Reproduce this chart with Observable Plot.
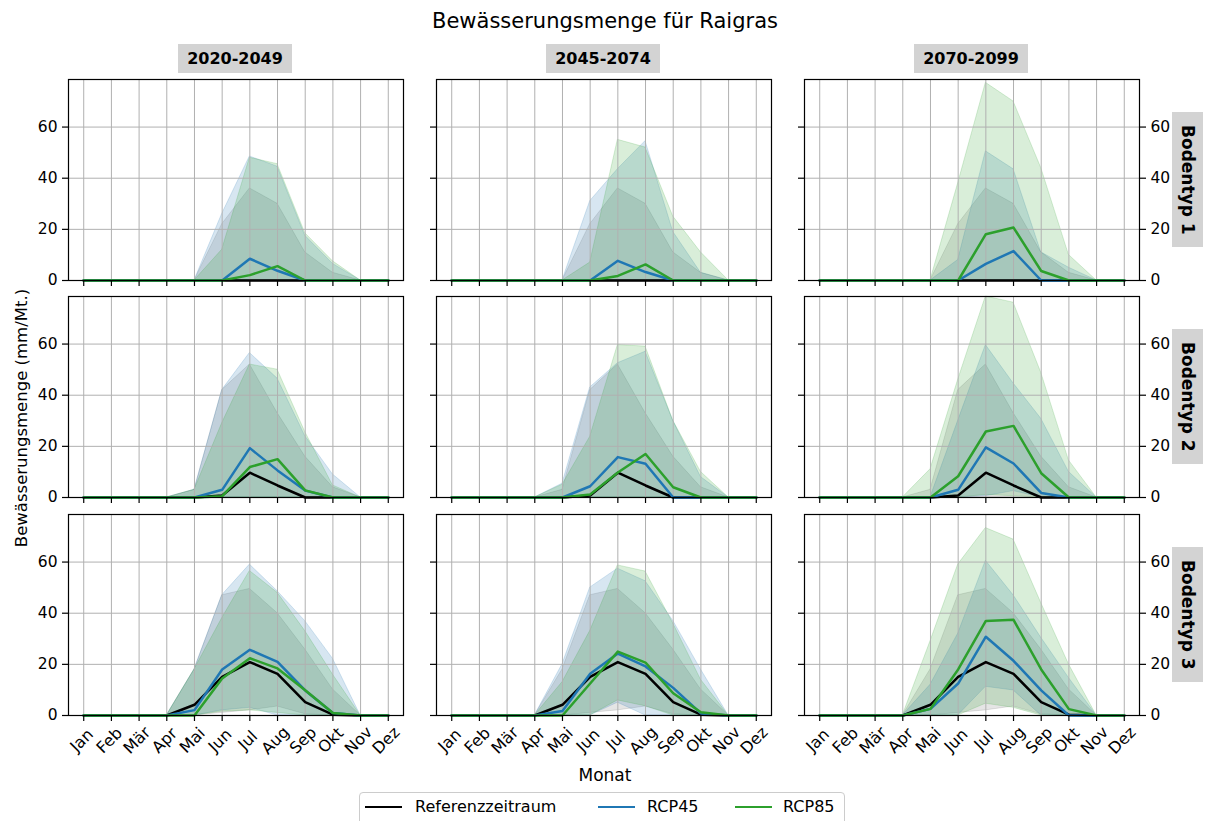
<!DOCTYPE html>
<html><head><meta charset="utf-8">
<script src="https://cdn.jsdelivr.net/npm/d3@7"></script>
<script src="https://cdn.jsdelivr.net/npm/@observablehq/plot@0.6"></script>
<style>
body{margin:0;background:#fff;font-family:"DejaVu Sans",sans-serif;color:#000;}
#root{position:relative;width:1210px;height:821px;overflow:hidden;background:#fff;}
.abs{position:absolute;}
.hdr{position:absolute;background:#d3d3d3;font-weight:bold;font-size:16px;display:flex;align-items:center;justify-content:center;}
.rowlab{position:absolute;background:#d3d3d3;font-weight:bold;font-size:17px;display:flex;align-items:center;justify-content:center;writing-mode:vertical-rl;}
</style></head><body><div id="root"></div>
<script>
const months = ["Jan","Feb","Mär","Apr","Mai","Jun","Jul","Aug","Sep","Okt","Nov","Dez"];
const periods = ["2020-2049","2045-2074","2070-2099"];
const soils = ["Bodentyp 1","Bodentyp 2","Bodentyp 3"];
const yTicks = [0,20,40,60];
const legendNames = ["Referenzzeitraum","RCP45","RCP85"];
const colors = ["black","#1f77b4","#2ca02c"];

// Bodentyp 1
const b1RefMean = [0,0,0,0,0,0,0,0,0,0,0,0];
const b1RefLo   = [0,0,0,0,0,0,0,0,0,0,0,0];
const b1RefHi   = [0,0,0,0,0,22,36,30,11,3,0,0];
const b1Rcp45Mean = [[0,0,0,0,0,0,8.5,3.8,0,0,0,0],[0,0,0,0,0,0,7.7,3.3,0,0,0,0],[0,0,0,0,0,0,6.5,11.5,0,0,0,0]];
const b1Rcp45Lo   = [[0,0,0,0,0,0,0,0,0,0,0,0],[0,0,0,0,0,0,0,0,0,0,0,0],[0,0,0,0,0,0,0,0,0,0,0,0]];
const b1Rcp45Hi   = [[0,0,0,0,0,26,48.5,44.5,17.5,6.5,0,0],[0,0,0,0,0,31,43.5,54.5,19,3,0,0],[0,0,0,0,0,8,50.5,43.5,11,5,0,0]];
const b1Rcp85Mean = [[0,0,0,0,0,0,2.1,5.6,0,0,0,0],[0,0,0,0,0,0,1.8,6.3,0,0,0,0],[0,0,0,0,0,0,18.1,20.7,3.7,0,0,0]];
const b1Rcp85Lo   = [[0,0,0,0,0,0,0,0,0,0,0,0],[0,0,0,0,0,0,0,0,0,0,0,0],[0,0,0,0,0,0,0,0,0,0,0,0]];
const b1Rcp85Hi   = [[0,0,0,0,0,12,48,45.5,18.5,7.5,0,0],[0,0,0,0,0,7,55,52,25,11,0,0],[0,0,0,0,0,38,77.3,70,44,10,0,0]];

// Bodentyp 2
const b2RefMean = [0,0,0,0,0,0.8,9.7,4.7,0,0,0,0];
const b2RefLo   = [0,0,0,0,0,0,0,0,0,0,0,0];
const b2RefHi   = [0,0,0,0,3,42,52,33,16,4,0,0];
const b2Rcp45Mean = [[0,0,0,0,0,3,19.3,10.6,2.7,0,0,0],[0,0,0,0,0,4.4,15.8,13.2,0,0,0,0],[0,0,0,0,0,3,19.6,13.3,1.8,0,0,0]];
const b2Rcp45Lo   = [[0,0,0,0,0,0,0,0,0,0,0,0],[0,0,0,0,0,0,0,0,0,0,0,0],[0,0,0,0,0,0,0.5,2.5,0,0,0,0]];
const b2Rcp45Hi   = [[0,0,0,0,3,42,56.5,46.5,24,9,0,0],[0,0,0,0,5.4,43,52.5,57,30,8,0,0],[0,0,0,0,0,30,59.6,44.6,30.8,10,0,0]];
const b2Rcp85Mean = [[0,0,0,0,0,0.5,11.9,15,2.8,0,0,0],[0,0,0,0,0,1.2,9.8,17,4,0,0,0],[0,0,0,0,0,8.3,25.8,28,9.5,0,0,0]];
const b2Rcp85Lo   = [[0,0,0,0,0,0,0,0,0,0,0,0],[0,0,0,0,0,0,0,0,0,0,0,0],[0,0,0,0,0,0,1,0.5,0,0,0,0]];
const b2Rcp85Hi   = [[0,0,0,0,3,29,52,50,25.6,4.7,0,0],[0,0,0,0,5,23.7,59.6,59,30,10,0,0],[0,0,0,0,11,46,78.6,76.2,48.8,14.5,0,0]];

// Bodentyp 3
const b3RefMean = [0,0,0,0,4.2,15.1,20.9,16.3,5.2,0.3,0,0];
const b3RefLo   = [0,0,0,0,0,1,2,3.5,0.5,0,0,0];
const b3RefHi   = [0,0,0,0,18,47,49.5,40,25.8,10.2,0,0];
const b3Rcp45Mean = [[0,0,0,0,2.1,18,25.7,21,9.8,1,0,0],[0,0,0,0,1.8,16.3,24.2,19.2,10.8,0.8,0,0],[0,0,0,0,2.6,12.5,30.8,21.4,9.8,0,0,0]];
const b3Rcp45Lo   = [[0,0,0,0,0,2,3,0,0,0,0,0],[0,0,0,0,0,0,5,0,0,0,0,0],[0,0,0,0,0,0,11.2,9.8,0,0,0,0]];
const b3Rcp45Hi   = [[0,0,0,0,18,47,59,48.6,36.9,22.2,0,0],[0,0,0,0,20,50,57.4,52.5,37,18,0,0],[0,0,0,0,12,32,60.5,47,30.4,14.7,0,0]];
const b3Rcp85Mean = [[0,0,0,0,0,14.5,22.4,18.4,9.9,1,0,0],[0,0,0,0,0,12.5,25,20.7,8.7,1.3,0,0],[0,0,0,0,2.6,18,37,37.4,18,2.5,0,0]];
const b3Rcp85Lo   = [[0,0,0,0,0,1.5,2,1,0,0,0,0],[0,0,0,0,0,0,5.9,3.6,0,0,0,0],[0,0,0,0,0,0,4.6,3,0,0,0,0]];
const b3Rcp85Hi   = [[0,0,0,0,18,38,56.5,48,33,16,0,0],[0,0,0,0,13,33,58.7,56.3,36,14,0,0],[0,0,0,0,29,59,73.3,68.8,44,20,0,0]];

const soilSets = [
  {refMean:b1RefMean, refLo:b1RefLo, refHi:b1RefHi, r45Mean:b1Rcp45Mean, r45Lo:b1Rcp45Lo, r45Hi:b1Rcp45Hi, r85Mean:b1Rcp85Mean, r85Lo:b1Rcp85Lo, r85Hi:b1Rcp85Hi},
  {refMean:b2RefMean, refLo:b2RefLo, refHi:b2RefHi, r45Mean:b2Rcp45Mean, r45Lo:b2Rcp45Lo, r45Hi:b2Rcp45Hi, r85Mean:b2Rcp85Mean, r85Lo:b2Rcp85Lo, r85Hi:b2Rcp85Hi},
  {refMean:b3RefMean, refLo:b3RefLo, refHi:b3RefHi, r45Mean:b3Rcp45Mean, r45Lo:b3Rcp45Lo, r45Hi:b3Rcp45Hi, r85Mean:b3Rcp85Mean, r85Lo:b3Rcp85Lo, r85Hi:b3Rcp85Hi}
];

const root = document.getElementById("root");
const frameLeft = [67.5, 435.5, 803.5];
const frameTop = [79, 296, 514];
const FW = 335, FH = 201;
const ML = 50, MR = 50, MT = 6;
const tickFont = 15.5;

function toRows(mean, lo, hi) {
  return months.map((m, i) => ({x: i, month: m, mean: mean[i], lo: lo[i], hi: hi[i]}));
}

for (let r = 0; r < 3; r++) {
  for (let c = 0; c < 3; c++) {
    const S = soilSets[r];
    const series = [
      {color: colors[0], fo: 0.10, data: toRows(S.refMean, S.refLo, S.refHi)},
      {color: colors[1], fo: 0.18, data: toRows(S.r45Mean[c], S.r45Lo[c], S.r45Hi[c])},
      {color: colors[2], fo: 0.18, data: toRows(S.r85Mean[c], S.r85Lo[c], S.r85Hi[c])}
    ];
    const MB = r === 2 ? 62 : 12;
    const marks = [];
    for (const s of series) {
      marks.push(Plot.areaY(s.data, {x: "x", y1: "lo", y2: "hi", fill: s.color, fillOpacity: s.fo,
        stroke: s.color, strokeOpacity: s.fo, strokeWidth: 1}));
    }
    marks.push(Plot.gridX(d3.range(12), {stroke: "#b0b0b0", strokeOpacity: 1, strokeWidth: 1}));
    marks.push(Plot.gridY(yTicks, {stroke: "#b0b0b0", strokeOpacity: 1, strokeWidth: 1}));
    for (const s of series) {
      marks.push(Plot.lineY(s.data, {x: "x", y: "mean", stroke: s.color, strokeWidth: 2.5}));
    }
    marks.push(Plot.frame({stroke: "black", strokeWidth: 1.2}));
    marks.push(Plot.axisX(d3.range(12), {anchor: "bottom", tickSize: 6, strokeWidth: 1.2, tickFormat: () => "", label: null}));
    marks.push(Plot.axisY(yTicks, {anchor: "left", tickSize: 6, tickPadding: 5, strokeWidth: 1.2,
      tickFormat: c === 0 ? (d => String(d)) : (() => ""), fontSize: tickFont, label: null}));
    if (c === 2) {
      marks.push(Plot.axisY(yTicks, {anchor: "right", tickSize: 6, tickPadding: 5, strokeWidth: 1.2,
        tickFormat: d => String(d), fontSize: tickFont, label: null}));
    }
    if (r === 2) {
      marks.push(Plot.text(series[0].data, {x: "x", text: "month", frameAnchor: "bottom", dy: 25, dx: -2,
        rotate: -45, textAnchor: "middle", lineAnchor: "middle", fontSize: 16, fill: "black"}));
    }
    const svg = Plot.plot({
      width: FW + ML + MR, height: FH + MT + MB,
      marginLeft: ML, marginRight: MR, marginTop: MT, marginBottom: MB,
      x: {domain: [-0.55, 11.55], label: null},
      y: {domain: [0, 78.6], label: null},
      style: {fontFamily: "DejaVu Sans", fontSize: tickFont + "px", background: "transparent", color: "black", overflow: "visible"},
      marks
    });
    svg.style.position = "absolute";
    svg.style.left = (frameLeft[c] - ML) + "px";
    svg.style.top = (frameTop[r] - MT) + "px";
    svg.style.maxWidth = "none";
    root.appendChild(svg);
  }
}

// column headers
periods.forEach((p, c) => {
  const d = document.createElement("div");
  d.className = "hdr";
  d.style.left = (frameLeft[c] + FW / 2 - 57) + "px";
  d.style.top = "44px"; d.style.width = "114px"; d.style.height = "29px";
  d.textContent = p;
  root.appendChild(d);
});
// row labels
soils.forEach((s, r) => {
  const d = document.createElement("div");
  d.className = "rowlab";
  d.style.left = "1172px";
  d.style.top = (frameTop[r] + FH / 2 - 67.5) + "px";
  d.style.width = "31px"; d.style.height = "135px";
  d.textContent = s;
  root.appendChild(d);
});
// title
const t = document.createElement("div");
t.className = "abs";
t.style.cssText = "position:absolute;left:0;width:1210px;top:8px;text-align:center;font-size:21px;line-height:26px;";
t.textContent = "Bewässerungsmenge für Raigras";
root.appendChild(t);
// y label
const yl = document.createElement("div");
yl.style.cssText = "position:absolute;left:-128px;width:300px;top:407px;height:22px;line-height:22px;text-align:center;font-size:16.5px;transform:rotate(-90deg);transform-origin:150px 11px;";
yl.textContent = "Bewässerungsmenge (mm/Mt.)";
root.appendChild(yl);
// x label
const xl = document.createElement("div");
xl.style.cssText = "position:absolute;left:455px;width:300px;top:764px;height:22px;line-height:22px;text-align:center;font-size:17px;";
xl.textContent = "Monat";
root.appendChild(xl);
// legend
const lg = document.createElement("div");
lg.style.cssText = "position:absolute;left:359px;top:792px;width:486px;height:36px;border:1px solid #cccccc;border-radius:4px;box-sizing:border-box;background:#fff;";
root.appendChild(lg);
const lineX = [365, 598, 735], textX = [415, 647, 783];
legendNames.forEach((n, i) => {
  const ln = document.createElement("div");
  ln.style.cssText = `position:absolute;left:${lineX[i]}px;top:805.5px;width:37px;height:2.5px;background:${colors[i]};`;
  root.appendChild(ln);
  const tx = document.createElement("div");
  tx.style.cssText = `position:absolute;left:${textX[i]}px;top:796.5px;height:20px;line-height:20px;font-size:16px;white-space:nowrap;`;
  tx.textContent = n;
  root.appendChild(tx);
});
</script></body></html>
